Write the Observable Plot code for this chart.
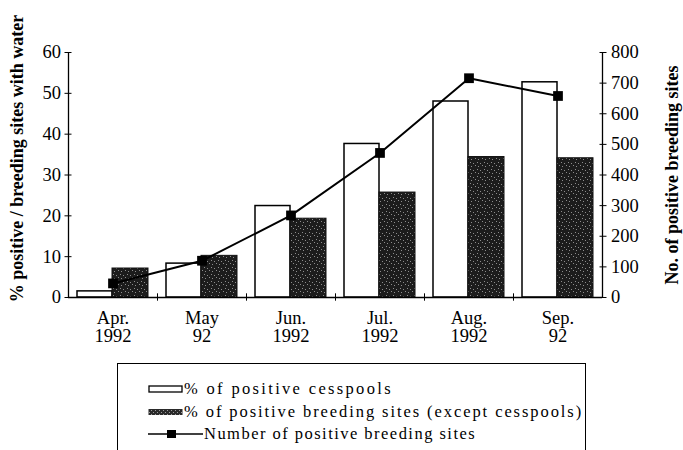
<!DOCTYPE html>
<html><head><meta charset="utf-8">
<script src="https://cdn.jsdelivr.net/npm/d3@7"></script>
<script src="https://cdn.jsdelivr.net/npm/@observablehq/plot@0.6"></script>
<style>
body{margin:0;background:#fff;width:683px;height:450px;overflow:hidden;position:relative;font-family:"Liberation Serif","Times New Roman",serif;}
#chart{position:absolute;left:0;top:0;}
#legend{position:absolute;left:117px;top:363px;width:469px;height:120px;border:1px solid #000;border-bottom:none;box-sizing:border-box;}
.row{position:absolute;left:30px;height:22px;display:flex;align-items:center;font-size:16.5px;white-space:nowrap;color:#000;}
.row svg{flex:none;margin-right:1px}
</style></head><body>
<div id="chart"></div><div id="legend"></div>
<script>
const months = ["Apr","May","Jun","Jul","Aug","Sep"];
const tickLine1 = ["Apr.","May","Jun.","Jul.","Aug.","Sep."];
const tickLine2 = ["1992","92","1992","1992","1992","92"];
const cesspools = [1.5, 8.3, 22.4, 37.6, 48.0, 52.7];
const breedingSites = [7.1, 10.2, 19.3, 25.7, 34.4, 34.1];
const positiveSites = [46, 120, 268, 472, 716, 658];
const leftTicks = [0, 10, 20, 30, 40, 50, 60];
const rightTicks = [0, 100, 200, 300, 400, 500, 600, 700, 800];
const seriesNames = ["% of positive cesspools", "% of positive breeding sites (except cesspools)", "Number of positive breeding sites"];
const leftTitle = "% positive / breeding sites with water";
const rightTitle = "No. of positive breeding sites";

const pctMax = 60, countMax = 800;
const k = pctMax / countMax;
const rows = months.map((m, i) => ({month: m, cess: cesspools[i], breed: breedingSites[i], n: positiveSites[i]}));
const line1Of = Object.fromEntries(months.map((m, i) => [m, tickLine1[i]]));
const line2Of = Object.fromEntries(months.map((m, i) => [m, tickLine2[i]]));

const plot = Plot.plot({
  width: 683, height: 360,
  marginLeft: 68, marginRight: 81, marginTop: 52, marginBottom: 63,
  style: {fontFamily: "'Liberation Serif', 'Times New Roman', serif", fontSize: "18.5px", background: "transparent", color: "#000"},
  x: {type: "band", domain: months, padding: 0, axis: null},
  y: {domain: [0, pctMax], axis: null},
  marks: [
    Plot.barY(rows, {x: "month", y: "cess", fill: "#fff", stroke: "#000", strokeWidth: 1.5, insetLeft: 9, insetRight: 45}),
    Plot.barY(rows, {x: "month", y: "breed", fill: "url(#stip)", stroke: "#111", strokeWidth: 1, insetLeft: 44, insetRight: 9}),
    Plot.ruleY([0], {stroke: "#000", strokeWidth: 1.3}),
    Plot.ruleX([months[0]], {dx: -44.5, y1: 0, y2: pctMax, stroke: "#000", strokeWidth: 1.3}),
    Plot.ruleX([months[months.length - 1]], {dx: 44.5, y1: 0, y2: countMax * k, stroke: "#000", strokeWidth: 1.3}),
    Plot.ruleX(months.slice(1), {dx: -44.5, y1: -0.9, y2: 0.9, stroke: "#000", strokeWidth: 1}),
    Plot.axisY({anchor: "left", ticks: leftTicks, tickSize: 7, dx: 3.5, tickPadding: 4, label: null, tickFormat: d => d}),
    Plot.axisY({anchor: "right", ticks: rightTicks.map(v => v * k), tickSize: 7, dx: -3.5, tickPadding: 5, label: null, tickFormat: d => Math.round(d / k)}),
    Plot.axisX({ticks: months, tickSize: 0, tickPadding: 13, label: null, tickFormat: m => line1Of[m]}),
    Plot.axisX({ticks: months, tickSize: 0, tickPadding: 31, label: null, tickFormat: m => line2Of[m]}),
    Plot.line(rows, {x: "month", y: d => d.n * k, stroke: "#000", strokeWidth: 2}),
    Plot.dot(rows, {x: "month", y: d => d.n * k, symbol: "square", r: 5.5, fill: "#000"}),
    Plot.text([leftTitle], {frameAnchor: "left", rotate: -90, dx: -51, dy: -16.5, textAnchor: "middle", lineAnchor: "middle", fontWeight: "bold", fontSize: 18, letterSpacing: "0.95px"}),
    Plot.text([rightTitle], {frameAnchor: "right", rotate: -90, dx: 70, dy: 0, textAnchor: "middle", lineAnchor: "middle", fontWeight: "bold", fontSize: 18, letterSpacing: "0.93px"})
  ]
});
const defs = d3.select(plot).insert("defs", ":first-child");
const pat = defs.append("pattern").attr("id", "stip").attr("patternUnits", "userSpaceOnUse").attr("width", 7).attr("height", 7);
pat.append("rect").attr("width", 7).attr("height", 7).attr("fill", "#1c1c1c");
[[1,1],[4,2],[2,5],[6,4]].forEach(([x, y]) => pat.append("rect").attr("x", x).attr("y", y).attr("width", 1).attr("height", 1).attr("fill", "#8c8c8c"));
document.getElementById("chart").appendChild(plot);

// legend
const legend = document.getElementById("legend");
const symbols = [
  `<svg width="35" height="10"><rect x="1" y="2" width="33" height="6" fill="#fff" stroke="#000" stroke-width="1.3"/></svg>`,
  `<svg width="35" height="10"><defs><pattern id="stip2" patternUnits="userSpaceOnUse" width="4" height="4"><rect width="4" height="4" fill="#2a2a2a"/><rect x="1" y="1" width="1" height="1" fill="#9a9a9a"/><rect x="3" y="3" width="1" height="1" fill="#9a9a9a"/></pattern></defs><rect x="0.5" y="2" width="34" height="6" fill="url(#stip2)"/></svg>`,
  `<svg width="55" height="10"><line x1="0" y1="5" x2="55" y2="5" stroke="#000" stroke-width="1.5"/><rect x="19" y="1" width="9" height="8" fill="#000"/></svg>`
];
const tops = [14, 37, 59];
const textWidths = [209, 399, 272];
seriesNames.forEach((name, i) => {
  const r = document.createElement("div");
  r.className = "row";
  r.style.top = tops[i] + "px";
  r.innerHTML = symbols[i] + "<span>" + name + "</span>";
  legend.appendChild(r);
  const span = r.querySelector("span");
  const w = span.getBoundingClientRect().width;
  span.style.letterSpacing = ((textWidths[i] - w) / name.length).toFixed(2) + "px";
});
</script></body></html>
